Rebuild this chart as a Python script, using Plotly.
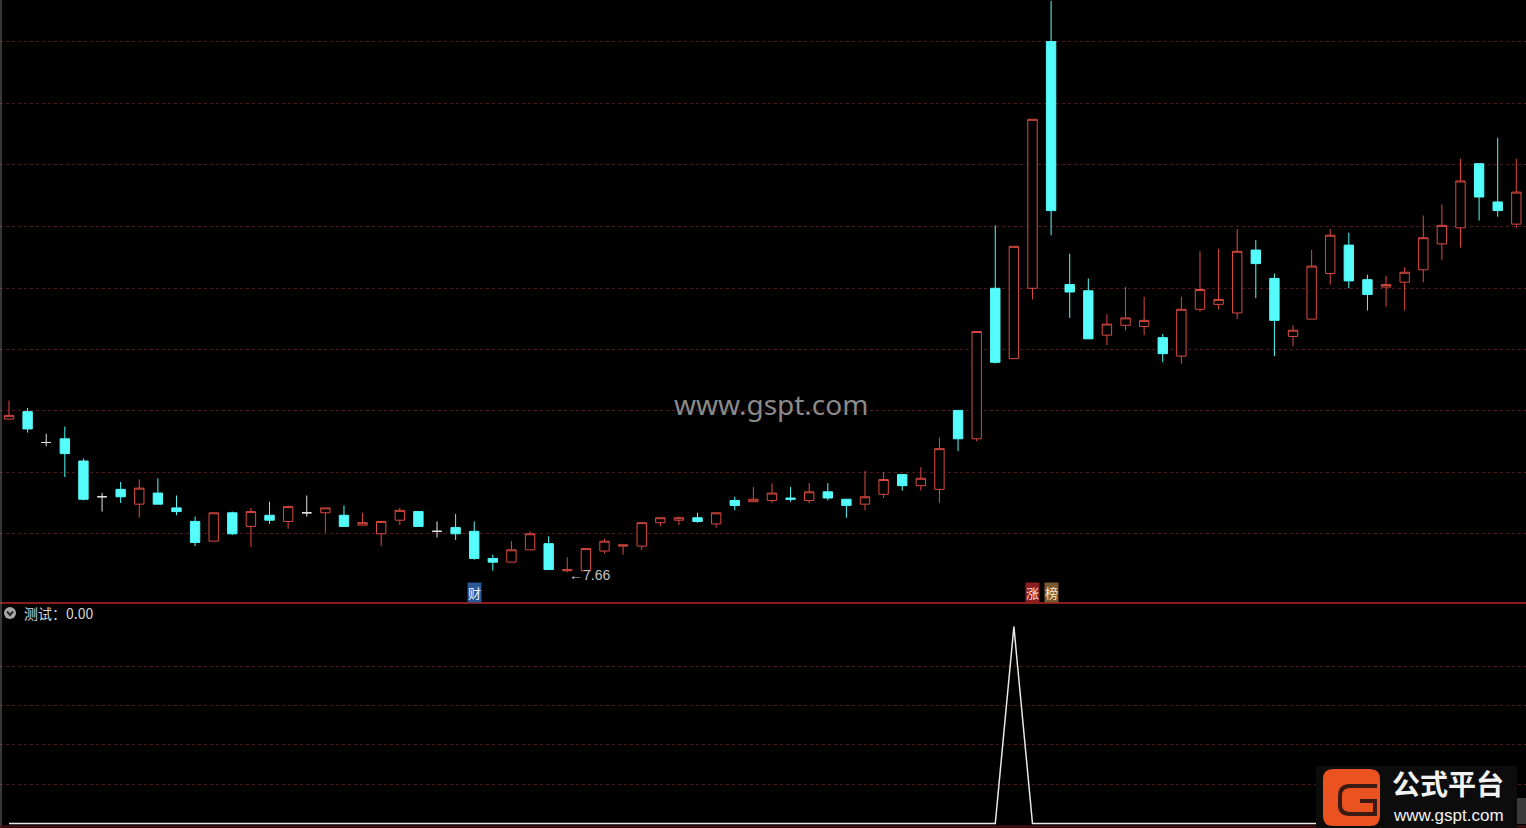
import plotly.graph_objects as go

W, H = 1526, 828

# ---------------- data ----------------
days = list(range(82))
opens = [8.90, 8.96, 8.71, 8.74, 8.56, 8.27, 8.33, 8.21, 8.30, 8.18,
         8.07, 7.91, 8.14, 8.03, 8.12, 8.07, 8.14, 8.14, 8.12, 8.04,
         7.97, 8.08, 8.15, 7.99, 8.02, 7.99, 7.77, 7.74, 7.84, 7.89,
         7.67, 7.67, 7.83, 7.87, 7.87, 8.06, 8.08, 8.10, 8.05, 8.24,
         8.23, 8.24, 8.26, 8.24, 8.31, 8.25, 8.21, 8.29, 8.45, 8.36,
         8.33, 8.97, 8.74, 9.96, 9.39, 9.96, 11.96, 9.99, 9.94, 9.58,
         9.66, 9.65, 9.56, 9.41, 9.79, 9.83, 9.76, 10.27, 10.04, 9.57,
         9.71, 10.08, 10.31, 10.03, 9.97, 10.01, 10.11, 10.32, 10.45, 10.97,
         10.66, 10.48]
highs = [9.05, 8.99, 8.78, 8.84, 8.58, 8.30, 8.39, 8.41, 8.42, 8.28,
         8.11, 8.14, 8.15, 8.18, 8.23, 8.20, 8.28, 8.18, 8.20, 8.14,
         8.07, 8.18, 8.15, 8.07, 8.13, 8.07, 7.80, 7.91, 7.99, 7.95,
         7.78, 7.85, 7.93, 7.88, 8.06, 8.10, 8.11, 8.14, 8.14, 8.27,
         8.35, 8.38, 8.35, 8.38, 8.38, 8.25, 8.48, 8.47, 8.45, 8.51,
         8.75, 8.97, 9.61, 10.47, 10.30, 11.33, 12.29, 10.24, 10.04, 9.75,
         9.97, 9.89, 9.59, 9.89, 10.26, 10.28, 10.44, 10.35, 10.08, 9.66,
         10.27, 10.44, 10.41, 10.07, 10.06, 10.13, 10.55, 10.64, 11.01, 10.97,
         11.18, 11.01]
lows = [8.90, 8.79, 8.68, 8.43, 8.24, 8.15, 8.22, 8.10, 8.21, 8.12,
        7.87, 7.91, 7.96, 7.86, 8.05, 8.01, 8.11, 7.98, 8.03, 8.04,
        7.87, 8.04, 8.03, 7.94, 7.92, 7.76, 7.67, 7.74, 7.84, 7.68,
        7.66, 7.67, 7.81, 7.80, 7.84, 8.03, 8.04, 8.06, 8.02, 8.16,
        8.23, 8.22, 8.23, 8.22, 8.24, 8.10, 8.16, 8.26, 8.32, 8.32,
        8.22, 8.64, 8.72, 9.35, 9.39, 9.87, 10.39, 9.72, 9.55, 9.50,
        9.62, 9.58, 9.36, 9.35, 9.77, 9.79, 9.71, 9.88, 9.41, 9.49,
        9.71, 9.99, 9.96, 9.78, 9.81, 9.78, 10.01, 10.19, 10.29, 10.51,
        10.54, 10.45]
closes = [8.93, 8.82, 8.71, 8.62, 8.25, 8.27, 8.27, 8.34, 8.21, 8.15,
          7.90, 8.14, 7.97, 8.15, 8.08, 8.19, 8.14, 8.18, 8.03, 8.06,
          8.07, 8.16, 8.03, 7.99, 7.97, 7.77, 7.74, 7.84, 7.97, 7.68,
          7.68, 7.85, 7.91, 7.88, 8.06, 8.10, 8.10, 8.07, 8.14, 8.20,
          8.25, 8.30, 8.25, 8.31, 8.26, 8.20, 8.27, 8.41, 8.36, 8.42,
          8.66, 8.74, 9.61, 9.36, 10.30, 11.33, 10.59, 9.93, 9.55, 9.67,
          9.72, 9.70, 9.43, 9.79, 9.95, 9.87, 10.26, 10.16, 9.70, 9.62,
          10.14, 10.39, 10.02, 9.91, 9.99, 10.09, 10.37, 10.47, 10.83, 10.70,
          10.59, 10.74]
test_values = [0, 0, 0, 0, 0, 0, 0, 0, 0, 0,
               0, 0, 0, 0, 0, 0, 0, 0, 0, 0,
               0, 0, 0, 0, 0, 0, 0, 0, 0, 0,
               0, 0, 0, 0, 0, 0, 0, 0, 0, 0,
               0, 0, 0, 0, 0, 0, 0, 0, 0, 0,
               0, 0, 0, 0, 1, 0, 0, 0, 0, 0,
               0, 0, 0, 0, 0, 0, 0, 0, 0, 0,
               0, 0, 0, 0, 0, 0, 0, 0, 0, 0,
               0, 0]
price_grid = [7.97, 8.47, 8.97, 9.46, 9.96, 10.46, 10.96, 11.46, 11.96]
test_grid = [0.2, 0.4, 0.6, 0.8]
low_day, low_price = 30, 7.66
cai_day = 25
zhang_day, bang_day = 55, 56
indicator_name = "测试"
indicator_last = 0.00

# ---------------- helpers ----------------
def px(x):
    return x / W


def py(y):
    return 1 - y / H


RED = "#d94a40"
CYAN = "#54fcfc"
DOJI = "#e6e6e6"
GRID = "#4e1a1a"
CJK = "Noto Sans CJK SC"

groups = {"up": [], "down": [], "doji": []}
for i, (o, c) in enumerate(zip(opens, closes)):
    groups["up" if c > o else ("down" if c < o else "doji")].append(i)

styles = {"up": (RED, "#000000"), "down": (CYAN, CYAN), "doji": (DOJI, DOJI)}

fig = go.Figure()
for key, idx in groups.items():
    col, fill = styles[key]
    fig.add_trace(go.Candlestick(
        x=[days[i] for i in idx],
        open=[opens[i] for i in idx],
        high=[highs[i] for i in idx],
        low=[lows[i] for i in idx],
        close=[closes[i] for i in idx],
        increasing=dict(line=dict(color=col, width=1), fillcolor=fill),
        decreasing=dict(line=dict(color=col, width=1), fillcolor=fill),
        whiskerwidth=0,
        xaxis="x", yaxis="y",
        showlegend=False,
    ))

fig.add_trace(go.Scatter(
    x=days, y=test_values, mode="lines",
    line=dict(color="#e8e8e8", width=1.5),
    xaxis="x2", yaxis="y2", showlegend=False,
))

xr = [-0.484, 81.52]
fig.update_layout(
    width=W, height=H, autosize=False,
    margin=dict(l=0, r=0, t=0, b=0),
    paper_bgcolor="#000000", plot_bgcolor="#000000",
    showlegend=False,
    boxgap=0.28,
    xaxis=dict(domain=[0, 1], range=xr, anchor="y", showgrid=False, zeroline=False,
               showticklabels=False, ticks="", showline=False,
               rangeslider=dict(visible=False)),
    yaxis=dict(domain=[py(602), 1], range=[7.417, 12.297], anchor="x",
               tickmode="array", tickvals=price_grid, showgrid=True, gridcolor=GRID,
               griddash="dot", gridwidth=1, zeroline=False, showticklabels=False,
               ticks="", showline=False),
    xaxis2=dict(domain=[0, 1], range=xr, anchor="y2", showgrid=False, zeroline=False,
                showticklabels=False, ticks="", showline=False),
    yaxis2=dict(domain=[0, py(604)], range=[-0.0229, 1.1153], anchor="x2",
                tickmode="array", tickvals=test_grid, showgrid=True, gridcolor=GRID,
                griddash="dot", gridwidth=1, zeroline=False, showticklabels=False,
                ticks="", showline=False),
)

shapes = [
    # panel separator
    dict(type="line", xref="paper", yref="paper", x0=0, x1=1, y0=py(603), y1=py(603),
         line=dict(color="#8c1c1c", width=2)),
    # left border
    dict(type="line", xref="paper", yref="paper", x0=px(1), x1=px(1), y0=0, y1=1,
         line=dict(color="#6e6e6e", width=1)),
    # bottom border
    dict(type="line", xref="paper", yref="paper", x0=0, x1=1, y0=py(826.5), y1=py(826.5),
         line=dict(color="#4a1212", width=2)),
    # indicator icon
    dict(type="circle", xref="paper", yref="paper", x0=px(4), x1=px(16), y0=py(619), y1=py(607),
         fillcolor="#a8a8a8", line=dict(width=0)),
    dict(type="path", xref="paper", yref="paper",
         path=f"M{px(7)},{py(611.5)} L{px(10)},{py(615)} L{px(13)},{py(611.5)}",
         line=dict(color="#2a2a2a", width=2)),
    # logo background
    dict(type="rect", xref="paper", yref="paper", x0=px(1316), x1=px(1517), y0=0, y1=py(766),
         fillcolor="#0c0c0c", line=dict(width=0), layer="above"),
    dict(type="rect", xref="paper", yref="paper", x0=px(1517), x1=px(1526), y0=py(824), y1=py(798),
         fillcolor="#3a3a3a", line=dict(width=0), layer="above"),
    dict(type="path", xref="paper", yref="paper", layer="above",
         path=(f"M{px(1333)},{py(769)} L{px(1370)},{py(769)} Q{px(1380)},{py(769)} {px(1380)},{py(779)} "
               f"L{px(1380)},{py(816)} Q{px(1380)},{py(826)} {px(1370)},{py(826)} "
               f"L{px(1333)},{py(826)} Q{px(1323)},{py(826)} {px(1323)},{py(816)} "
               f"L{px(1323)},{py(779)} Q{px(1323)},{py(769)} {px(1333)},{py(769)} Z"),
         fillcolor="#ea5220", line=dict(width=0)),
    dict(type="path", xref="paper", yref="paper", layer="above",
         path=(f"M{px(1377)},{py(786)} L{px(1350)},{py(786)} Q{px(1340)},{py(786)} {px(1340)},{py(796)} "
               f"L{px(1340)},{py(805)} Q{px(1340)},{py(814)} {px(1350)},{py(814)} "
               f"L{px(1375)},{py(814)} L{px(1375)},{py(801)} L{px(1360)},{py(801)}"),
         line=dict(color="#3a1a12", width=4)),
]

C = dict(xanchor="center", yanchor="middle", showarrow=False)
annotations = [
    dict(text="www.gspt.com", xref="paper", yref="paper", x=px(771), y=py(404),
         font=dict(family="Noto Sans", size=28, color="#8a8a8a"), **C),
    dict(text=f"←{low_price:.2f}", xref="x", yref="y", x=low_day, y=low_price,
         xanchor="left", yanchor="middle", yshift=-3, showarrow=False,
         font=dict(family="Liberation Sans", size=14, color="#c4c4c4")),
    dict(text="财", xref="x", yref="paper", x=cai_day, y=py(592),
         font=dict(family=CJK, size=13, color="#eef4ff"), bgcolor="#2b5797", borderpad=0, **C),
    dict(text="涨", xref="x", yref="paper", x=zhang_day, y=py(592),
         font=dict(family=CJK, size=13, color="#ffe0e0"), bgcolor="#8b1e1e", borderpad=0, **C),
    dict(text="榜", xref="x", yref="paper", x=bang_day, y=py(592),
         font=dict(family=CJK, size=13, color="#ffe8c8"), bgcolor="#7a5a30", borderpad=0, **C),
    dict(text=f"{indicator_name}：{indicator_last:.2f}", xref="paper", yref="paper",
         x=px(22), y=py(613), xanchor="left", yanchor="middle", showarrow=False,
         font=dict(family=CJK, size=14, color="#d8d8d8")),
    dict(text="<b>公式平台</b>", xref="paper", yref="paper", x=px(1448), y=py(783),
         font=dict(family=CJK, size=28, color="#f2f2f2"), borderpad=0, **C),
    dict(text="www.gspt.com", xref="paper", yref="paper", x=px(1448), y=py(815),
         font=dict(family="Liberation Sans", size=17, color="#f2f2f2"), borderpad=0, **C),
]

fig.update_layout(shapes=shapes, annotations=annotations)
fig.write_html(
    "out.html",
    config={"responsive": False, "displayModeBar": False},
    post_script=("document.body.style.margin='0px';"
                 "document.body.style.padding='0px';"
                 "document.body.style.overflow='hidden';"
                 "document.body.style.background='#000';"),
)
